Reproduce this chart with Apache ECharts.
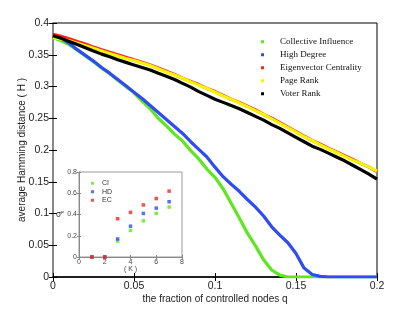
<!DOCTYPE html>
<html><head><meta charset="utf-8">
<script src="https://cdn.jsdelivr.net/npm/echarts@6/dist/echarts.min.js"></script>
<style>html,body{margin:0;padding:0;background:#fff}#c{width:415px;height:312px}</style>
</head><body><div id="c"></div>
<script>
// fraction of controlled nodes q
const q = [0,0.005,0.01,0.015,0.02,0.025,0.03,0.035,0.04,0.045,0.05,0.055,0.06,0.065,0.07,0.075,0.08,0.085,0.09,0.095,0.1,0.105,0.11,0.115,0.12,0.125,0.13,0.135,0.14,0.145,0.15,0.155,0.16,0.165,0.17,0.175,0.18,0.185,0.19,0.195,0.2];
const collectiveInfluence = [0.377,0.372,0.366,0.357,0.348,0.339,0.329,0.320,0.310,0.300,0.290,0.277,0.265,0.250,0.238,0.225,0.214,0.199,0.186,0.170,0.157,0.139,0.116,0.093,0.069,0.049,0.027,0.011,0.003,0.000,0,0,0,0,0,0,0,0,0,0,0];
const highDegree = [0.379,0.376,0.368,0.358,0.349,0.340,0.330,0.321,0.311,0.301,0.291,0.281,0.270,0.259,0.248,0.237,0.226,0.213,0.201,0.189,0.173,0.158,0.146,0.135,0.122,0.110,0.096,0.079,0.066,0.054,0.037,0.014,0.004,0.001,0,0,0,0,0,0,0];
const eigenvectorCentrality = [0.382,0.379,0.375,0.371,0.367,0.362,0.358,0.354,0.350,0.346,0.342,0.338,0.334,0.329,0.324,0.319,0.313,0.308,0.303,0.297,0.292,0.286,0.280,0.275,0.269,0.263,0.256,0.250,0.243,0.236,0.229,0.222,0.215,0.209,0.203,0.197,0.191,0.185,0.179,0.173,0.166];
const pageRank = [0.377,0.375,0.372,0.368,0.364,0.360,0.356,0.352,0.348,0.344,0.341,0.337,0.333,0.328,0.323,0.318,0.313,0.307,0.302,0.297,0.291,0.285,0.280,0.274,0.268,0.262,0.256,0.249,0.242,0.235,0.228,0.221,0.215,0.208,0.202,0.196,0.190,0.184,0.179,0.173,0.167];
const voterRank = [0.380,0.376,0.371,0.366,0.361,0.356,0.351,0.347,0.342,0.338,0.334,0.330,0.326,0.321,0.316,0.311,0.305,0.299,0.292,0.286,0.280,0.275,0.270,0.265,0.259,0.253,0.247,0.240,0.234,0.227,0.220,0.213,0.206,0.201,0.195,0.189,0.183,0.176,0.169,0.162,0.154];

// inset: K vs sigma^P
const K = [1,2,3,4,5,6,7];
const insetCI = [0,0,0.15,0.25,0.34,0.41,0.47];
const insetHD = [0,0,0.17,0.29,0.41,0.46,0.52];
const insetEC = [0,0,0.36,0.42,0.49,0.55,0.62];

const names = ['Collective Influence','High Degree','Eigenvector Centrality','Page Rank','Voter Rank'];
const colors = ['#5ee61e','#2f4cf2','#ff2020','#f5f500','#000000'];
const values = [collectiveInfluence, highDegree, eigenvectorCentrality, pageRank, voterRank];

const pairs = (xs, ys) => xs.map((x, i) => [x, ys[i]]);

const mainSeries = names.map((n, i) => ({
  name: n, type: 'line', xAxisIndex: 0, yAxisIndex: 0,
  data: pairs(q, values[i]), showSymbol: false, symbol: 'rect',
  lineStyle: { color: colors[i], width: 3.2 }, itemStyle: { color: colors[i] },
  silent: true, animation: false
}));

const insetNames = ['CI','HD','EC'];
const insetColors = ['#5ee61e','#2f4cf2','#ff2020'];
const insetVals = [insetCI, insetHD, insetEC];
const insetSeries = insetNames.map((n, i) => ({
  name: n, type: 'scatter', xAxisIndex: 2, yAxisIndex: 2,
  data: pairs(K, insetVals[i]), symbol: 'rect', symbolSize: 3.5,
  itemStyle: { color: insetColors[i] }, z: 10, animation: false
}));

const lab = { color: '#222', fontFamily: 'Liberation Sans, Arial, sans-serif', fontSize: 10.5 };
const small = { color: '#444', fontFamily: 'Liberation Sans, Arial, sans-serif', fontSize: 7 };

const chart = echarts.init(document.getElementById('c'), null, { renderer: 'canvas' });
chart.setOption({
  animation: false,
  backgroundColor: '#fff',
  grid: [
    { left: 53, top: 23, width: 324, height: 254, show: true, borderColor: '#000', borderWidth: 1, backgroundColor: 'transparent' },
    { left: 79, top: 172, width: 103, height: 85, show: true, borderColor: '#999', borderWidth: 1, backgroundColor: '#fff', z: 5 }
  ],
  xAxis: [
    { gridIndex: 0, type: 'value', min: 0, max: 0.2, interval: 0.05,
      name: 'the fraction of controlled nodes q', nameLocation: 'middle', nameGap: 17, nameMoveOverlap: false,
      nameTextStyle: { color: '#222', fontFamily: 'Liberation Sans, Arial, sans-serif', fontSize: 10 },
      axisLine: { lineStyle: { color: '#000', width: 1.5 } },
      axisTick: { inside: true, length: 4, lineStyle: { color: '#000' } },
      axisLabel: Object.assign({ margin: 4 }, lab), splitLine: { show: false } },
    { gridIndex: 0, type: 'value', min: 0, max: 0.2, interval: 0.05, position: 'top',
      axisLine: { show: false }, axisTick: { inside: true, length: 4, lineStyle: { color: '#000' } },
      axisLabel: { show: false }, splitLine: { show: false } },
    { gridIndex: 1, type: 'value', min: 0, max: 8, interval: 2,
      name: '( K )', nameLocation: 'middle', nameGap: 9, nameMoveOverlap: false, nameTextStyle: small,
      axisLine: { lineStyle: { color: '#888' } },
      axisTick: { inside: true, length: 2, lineStyle: { color: '#888' } },
      axisLabel: Object.assign({ margin: 2 }, small), splitLine: { show: false }, z: 6 },
    { gridIndex: 1, type: 'value', min: 0, max: 8, interval: 2, position: 'top',
      axisLine: { show: false }, axisTick: { inside: true, length: 2, lineStyle: { color: '#888' } },
      axisLabel: { show: false }, splitLine: { show: false }, z: 6 }
  ],
  yAxis: [
    { gridIndex: 0, type: 'value', min: 0, max: 0.4, interval: 0.05,
      name: 'average Hamming distance ( H )', nameLocation: 'middle', nameGap: 26, nameMoveOverlap: false,
      nameTextStyle: { color: '#222', fontFamily: 'Liberation Sans, Arial, sans-serif', fontSize: 10 },
      axisLine: { lineStyle: { color: '#888', width: 2 } },
      axisTick: { inside: true, length: 4, lineStyle: { color: '#000' } },
      axisLabel: Object.assign({ margin: 4 }, lab), splitLine: { show: false } },
    { gridIndex: 0, type: 'value', min: 0, max: 0.4, interval: 0.05, position: 'right',
      axisLine: { show: false }, axisTick: { inside: true, length: 4, lineStyle: { color: '#000' } },
      axisLabel: { show: false }, splitLine: { show: false } },
    { gridIndex: 1, type: 'value', min: 0, max: 0.8, interval: 0.2,
      name: 'σᴾ', nameLocation: 'middle', nameGap: 15, nameRotate: 0, nameMoveOverlap: false,
      nameTextStyle: { fontSize: 8, color: '#333', fontFamily: 'DejaVu Sans, sans-serif', align: 'right', verticalAlign: 'middle' },
      axisLine: { lineStyle: { color: '#888' } },
      axisTick: { inside: true, length: 2, lineStyle: { color: '#888' } },
      axisLabel: Object.assign({ margin: 2 }, small), splitLine: { show: false }, z: 6 },
    { gridIndex: 1, type: 'value', min: 0, max: 0.8, interval: 0.2, position: 'right',
      axisLine: { show: false }, axisTick: { inside: true, length: 2, lineStyle: { color: '#888' } },
      axisLabel: { show: false }, splitLine: { show: false }, z: 6 }
  ],
  legend: [
    { data: names, orient: 'vertical', left: 261, top: 36, icon: 'rect', itemWidth: 3, itemHeight: 3,
      itemGap: 1.5, padding: 0,
      textStyle: { fontFamily: 'Liberation Serif, Times New Roman, serif', fontSize: 9, color: '#111', lineHeight: 11.5, padding: [0,0,0,11] } },
    { data: insetNames, orient: 'vertical', left: 91, top: 179, icon: 'rect', itemWidth: 3, itemHeight: 3,
      itemGap: 0, padding: 0, z: 10,
      textStyle: { fontFamily: 'Liberation Sans, Arial, sans-serif', fontSize: 7, color: '#333', lineHeight: 8.5, padding: [0,0,0,3] } }
  ],
  series: mainSeries.concat(insetSeries)
});
</script></body></html>
